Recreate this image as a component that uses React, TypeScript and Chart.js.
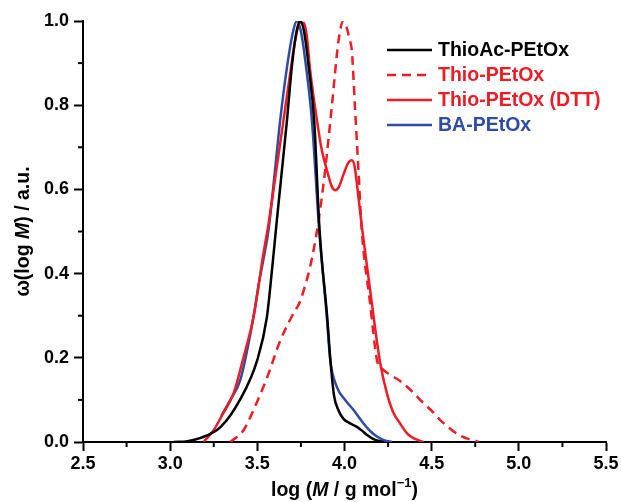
import { useEffect, useRef } from 'react';
import { Chart, registerables } from 'chart.js';

Chart.register(...registerables);

const FONT = '"Liberation Sans", Arial, Helvetica, sans-serif';
const BLACK = '#000000';
const RED = '#ee1c25';
const BLUE = '#2e4ca6';

const seriesLabels = ['ThioAc-PEtOx', 'Thio-PEtOx', 'Thio-PEtOx (DTT)', 'BA-PEtOx'];

const thioAcX = [3.02, 3.1, 3.17, 3.29, 3.4, 3.5, 3.555, 3.584, 3.612, 3.67, 3.7, 3.725, 3.746, 3.768, 3.795, 3.826, 3.857, 3.9, 3.92, 3.94, 3.966, 3.994, 4.03, 4.071, 4.1, 4.128, 4.17, 4.224];
const thioAcY = [0, 0.002, 0.009, 0.036, 0.1, 0.195, 0.297, 0.408, 0.527, 0.764, 0.9, 0.975, 1.0, 0.975, 0.89, 0.764, 0.503, 0.3, 0.19, 0.11, 0.075, 0.055, 0.045, 0.036, 0.027, 0.017, 0.006, 0];

const thioX = [3.345, 3.421, 3.478, 3.555, 3.631, 3.7, 3.746, 3.78, 3.803, 3.851, 3.889, 3.928, 3.966, 3.993, 4.012, 4.03, 4.042, 4.061, 4.08, 4.099, 4.147, 4.186, 4.214, 4.26, 4.319, 4.4, 4.434, 4.51, 4.549, 4.664, 4.77];
const thioY = [0, 0.028, 0.076, 0.152, 0.24, 0.3, 0.335, 0.38, 0.416, 0.525, 0.646, 0.8, 0.954, 1.0, 0.985, 0.955, 0.93, 0.788, 0.646, 0.503, 0.329, 0.195, 0.175, 0.16, 0.145, 0.115, 0.1, 0.07, 0.052, 0.015, 0];

const thioDttX = [3.192, 3.249, 3.3, 3.364, 3.42, 3.478, 3.536, 3.565, 3.6, 3.65, 3.69, 3.72, 3.745, 3.768, 3.785, 3.803, 3.842, 3.87, 3.899, 3.928, 3.947, 3.968, 3.994, 4.02, 4.042, 4.058, 4.075, 4.1, 4.157, 4.205, 4.243, 4.28, 4.319, 4.36, 4.396, 4.453];
const thioDttY = [0, 0.028, 0.065, 0.116, 0.2, 0.297, 0.45, 0.52, 0.62, 0.764, 0.88, 0.96, 0.995, 0.995, 0.96, 0.883, 0.764, 0.693, 0.646, 0.606, 0.598, 0.606, 0.635, 0.662, 0.669, 0.655, 0.6, 0.51, 0.329, 0.187, 0.116, 0.07, 0.044, 0.02, 0.009, 0];

const baX = [3.293, 3.345, 3.402, 3.478, 3.509, 3.545, 3.564, 3.6, 3.631, 3.67, 3.705, 3.727, 3.75, 3.78, 3.813, 3.855, 3.9, 3.918, 3.956, 4.004, 4.052, 4.109, 4.15, 4.186, 4.23, 4.272];
const baY = [0.062, 0.1, 0.147, 0.297, 0.377, 0.456, 0.503, 0.64, 0.764, 0.89, 0.975, 1.0, 0.975, 0.89, 0.764, 0.503, 0.29, 0.195, 0.131, 0.1, 0.076, 0.044, 0.025, 0.013, 0.004, 0];

const xMinorTicks = [2.75, 3.25, 3.75, 4.25, 4.75, 5.25];
const yMinorTicks = [0.1, 0.3, 0.5, 0.7, 0.9];

const seriesX = [thioAcX, thioX, thioDttX, baX];
const seriesY = [thioAcY, thioY, thioDttY, baY];
const seriesColors = [BLACK, RED, RED, BLUE];
const seriesDash = [[], [9, 6], [], []];

type Run = { text: string; italic?: boolean; sup?: boolean };

function drawRuns(ctx: CanvasRenderingContext2D, runs: Run[], cx: number, cy: number, size: number) {
  const fontFor = (r: Run) => `${r.italic ? 'italic ' : ''}bold ${r.sup ? Math.round(size * 0.68) : size}px ${FONT}`;
  let total = 0;
  const widths = runs.map((r) => {
    ctx.font = fontFor(r);
    const w = ctx.measureText(r.text).width;
    total += w;
    return w;
  });
  let x = cx - total / 2;
  ctx.textBaseline = 'middle';
  ctx.textAlign = 'left';
  runs.forEach((r, i) => {
    ctx.font = fontFor(r);
    ctx.fillText(r.text, x, r.sup ? cy - size * 0.38 : cy);
    x += widths[i];
  });
}

const decorPlugin = {
  id: 'decor',
  afterDraw(chart: any) {
    const ctx: CanvasRenderingContext2D = chart.ctx;
    const xs = chart.scales.x;
    const ys = chart.scales.y;
    const area = chart.chartArea;
    ctx.save();
    ctx.strokeStyle = BLACK;
    ctx.lineWidth = 2;
    xMinorTicks.forEach((v) => {
      const p = xs.getPixelForValue(v);
      ctx.beginPath();
      ctx.moveTo(p, area.bottom);
      ctx.lineTo(p, area.bottom + 5);
      ctx.stroke();
    });
    yMinorTicks.forEach((v) => {
      const p = ys.getPixelForValue(v);
      ctx.beginPath();
      ctx.moveTo(area.left, p);
      ctx.lineTo(area.left - 5, p);
      ctx.stroke();
    });

    // legend
    chart.data.datasets.forEach((ds: any, i: number) => {
      const y = 50 + i * 25;
      ctx.strokeStyle = ds.borderColor;
      ctx.lineWidth = 2.5;
      ctx.setLineDash(ds.borderDash || []);
      ctx.beginPath();
      ctx.moveTo(387, y);
      ctx.lineTo(432, y);
      ctx.stroke();
      ctx.setLineDash([]);
      ctx.fillStyle = ds.borderColor;
      ctx.font = `bold 19.5px ${FONT}`;
      ctx.textBaseline = 'middle';
      ctx.textAlign = 'left';
      ctx.fillText(ds.label, 438, y + 1);
    });

    // axis titles
    ctx.fillStyle = BLACK;
    drawRuns(
      ctx,
      [{ text: 'log (' }, { text: 'M', italic: true }, { text: ' / g mol' }, { text: '\u22121', sup: true }, { text: ')' }],
      (area.left + area.right) / 2,
      491,
      19.5
    );
    ctx.save();
    ctx.translate(24, (area.top + area.bottom) / 2);
    ctx.rotate(-Math.PI / 2);
    drawRuns(ctx, [{ text: '\u03c9(log ' }, { text: 'M', italic: true }, { text: ') / a.u.' }], 0, 0, 19.5);
    ctx.restore();
    ctx.restore();
  },
};

export default function App() {
  const ref = useRef<HTMLCanvasElement | null>(null);
  useEffect(() => {
    document.body.style.margin = '0';
    const canvas = ref.current;
    if (!canvas) return;
    const datasets = seriesLabels.map((label, i) => ({
      label,
      data: seriesX[i].map((x, j) => ({ x, y: seriesY[i][j] })),
      borderColor: seriesColors[i],
      backgroundColor: seriesColors[i],
      borderWidth: 2.5,
      borderDash: seriesDash[i],
      pointRadius: 0,
      showLine: true,
      fill: false,
      cubicInterpolationMode: 'monotone' as const,
    }));
    const chart = new Chart(canvas, {
      type: 'scatter',
      data: { datasets },
      options: {
        responsive: false,
        animation: false,
        layout: { padding: { left: 0, right: 15, top: 21, bottom: 0 } },
        plugins: { legend: { display: false }, tooltip: { enabled: false } },
        scales: {
          x: {
            type: 'linear',
            min: 2.5,
            max: 5.5,
            afterFit: (s: any) => {
              s.height = 60;
            },
            ticks: {
              stepSize: 0.5,
              padding: 2,
              color: BLACK,
              font: { family: FONT, size: 18, weight: 'bold' },
              callback: (v: any) => Number(v).toFixed(1),
            },
            grid: { drawOnChartArea: false, drawTicks: true, tickLength: 9, tickWidth: 2, tickColor: BLACK },
            border: { display: true, color: BLACK, width: 2 },
          },
          y: {
            type: 'linear',
            min: 0,
            max: 1,
            afterFit: (s: any) => {
              s.width = 83;
            },
            ticks: {
              stepSize: 0.2,
              padding: 5,
              color: BLACK,
              font: { family: FONT, size: 18, weight: 'bold' },
              callback: (v: any) => Number(v).toFixed(1),
            },
            grid: { drawOnChartArea: false, drawTicks: true, tickLength: 9, tickWidth: 2, tickColor: BLACK },
            border: { display: true, color: BLACK, width: 2 },
          },
        },
      },
      plugins: [decorPlugin],
    });
    return () => chart.destroy();
  }, []);
  return (
    <div style={{ width: 621, height: 502 }}>
      <canvas ref={ref} width={621} height={502} style={{ display: 'block' }} />
    </div>
  );
}
